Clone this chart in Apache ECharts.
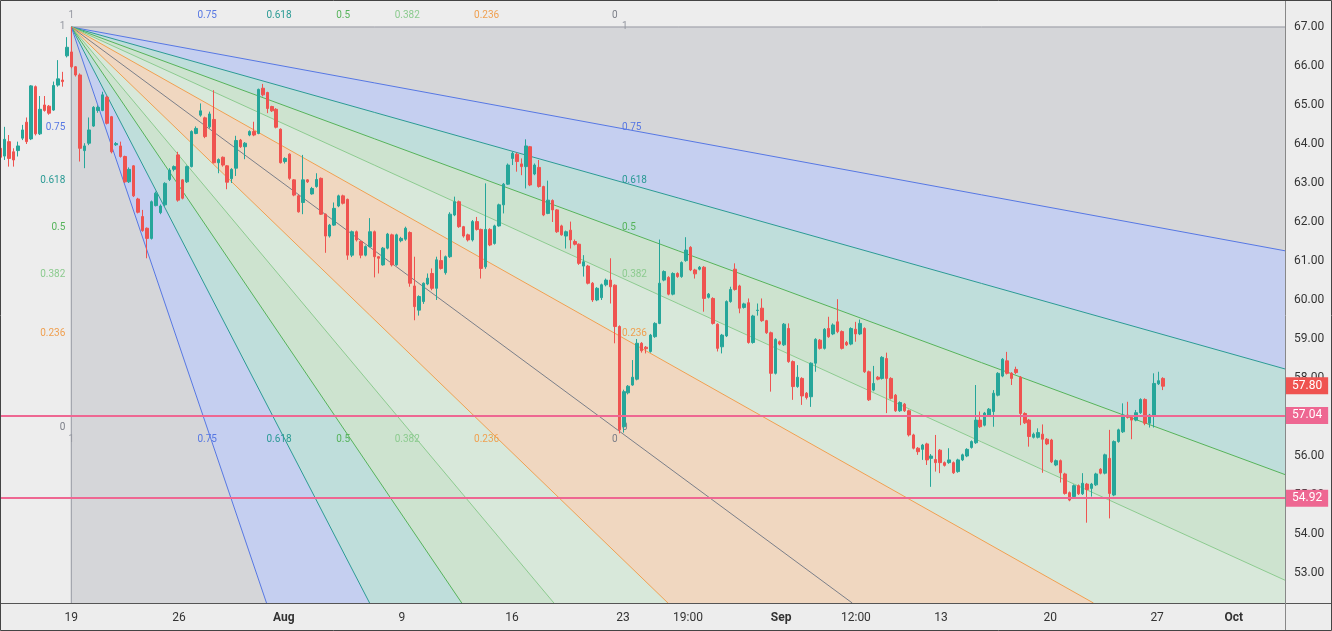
<!DOCTYPE html>
<html><head><meta charset="utf-8">
<script src="https://cdn.jsdelivr.net/npm/echarts@6/dist/echarts.min.js"></script>
<style>html,body{margin:0;padding:0;background:#ededed}#c{width:1332px;height:631px}</style>
</head><body><div id="c"></div>
<script>
// ---------- data ----------
const firstIndex = -16; // bar index of first candle (0 = 19 Jul swing high)
// [open, high, low, close]
const candles = [
[63.89,63.93,63.59,63.66],[63.69,64.44,63.59,64.12],[64.06,64.23,63.42,63.63],[63.80,63.89,63.42,63.59],
[63.83,64.06,63.68,63.95],[64.15,64.49,64.10,64.36],[64.56,64.68,64.00,64.06],[64.13,65.51,64.10,65.49],
[65.47,65.50,64.22,64.26],[64.26,65.23,64.23,64.89],[65.00,65.23,64.83,64.86],[64.97,65.00,64.75,64.79],
[64.87,65.60,64.85,65.50],[65.51,66.15,65.47,65.67],[65.64,65.85,65.47,65.60],[66.26,66.74,66.22,66.48],
[66.36,67.00,65.94,65.98],[65.98,66.00,65.73,65.77],[65.77,65.81,63.55,63.89],[63.83,64.02,63.38,63.95],
[64.02,64.68,63.97,64.36],[64.46,64.97,64.44,64.94],[64.86,64.99,64.80,64.94],[64.86,65.34,64.84,65.26],
[65.20,65.24,64.50,64.53],[64.70,64.72,63.76,63.80],[63.98,64.05,63.95,64.01],[63.95,64.06,63.65,63.68],
[63.68,63.70,63.00,63.03],[63.03,63.40,63.00,63.35],[63.44,63.46,62.64,62.67],[62.59,62.62,62.22,62.25],
[62.14,62.31,61.75,61.78],[61.84,61.86,61.07,61.58],[61.58,62.55,61.55,62.52],[62.42,62.78,62.40,62.74],
[62.24,62.45,62.20,62.41],[62.44,63.02,62.40,62.99],[63.09,63.38,63.05,63.33],[63.35,63.45,63.30,63.42],
[63.72,63.80,62.52,62.56],[63.08,63.10,62.58,62.61],[63.03,63.45,63.00,63.42],[63.42,64.35,63.40,64.32],
[64.27,64.45,64.25,64.40],[64.74,65.04,64.70,64.85],[64.67,64.70,64.15,64.19],[64.44,64.83,64.40,64.77],
[64.63,65.38,63.50,63.52],[63.52,63.63,63.25,63.60],[63.66,63.68,63.42,63.46],[63.44,63.46,62.84,63.02],
[63.11,63.38,63.00,63.35],[63.38,64.21,63.18,64.09],[64.10,64.13,63.90,63.93],[63.93,64.05,63.61,64.02],
[64.23,64.35,64.20,64.32],[64.32,64.57,64.20,64.23],[64.27,65.42,64.25,65.40],[65.43,65.54,65.22,65.26],
[65.32,65.34,64.79,64.91],[64.96,64.98,64.82,64.85],[64.89,64.92,64.40,64.43],[64.38,64.40,63.50,63.52],
[63.55,63.66,63.50,63.63],[63.74,63.76,63.08,63.12],[63.08,63.10,62.66,62.69],[62.67,62.70,62.24,62.26],
[62.50,63.72,62.20,63.08],[63.08,63.10,63.00,63.03],[62.72,62.90,62.70,62.86],[62.91,63.25,62.88,63.09],
[63.12,63.14,62.18,62.20],[62.20,62.22,61.21,61.64],[61.64,61.95,61.60,61.92],[61.92,62.50,61.90,62.35],
[62.41,62.70,62.38,62.67],[62.67,62.70,62.45,62.48],[62.58,62.60,61.03,61.15],[61.15,61.78,61.10,61.75],
[61.75,61.78,61.50,61.54],[61.50,61.52,61.07,61.15],[61.15,61.40,61.12,61.37],[61.37,62.10,61.35,61.75],
[61.75,61.78,60.58,61.11],[61.11,61.12,60.68,61.07],[60.90,61.36,60.88,61.33],[61.33,61.72,61.30,61.69],
[61.67,61.70,60.86,60.90],[60.90,61.70,60.88,61.67],[61.52,61.62,61.48,61.58],[61.56,61.88,61.52,61.84],
[61.73,61.76,60.34,60.43],[60.36,61.11,59.48,59.83],[59.74,60.12,59.60,60.09],[59.96,60.45,59.90,60.43],
[60.41,60.68,60.38,60.56],[60.68,60.81,60.25,60.30],[60.30,61.11,60.00,61.03],[61.01,61.28,60.78,60.81],
[60.70,61.14,60.65,61.11],[61.11,62.25,61.08,62.20],[62.18,62.65,62.15,62.52],[62.52,62.55,61.85,61.88],
[61.88,61.90,61.60,61.64],[61.67,61.70,61.50,61.54],[61.54,62.05,61.50,62.01],[62.01,62.13,61.78,61.81],
[61.81,61.83,60.55,60.81],[60.85,62.99,60.80,61.81],[61.81,61.84,61.38,61.41],[61.45,61.93,61.42,61.90],
[61.90,62.47,61.88,62.44],[62.44,63.00,62.22,62.97],[62.97,63.50,62.95,63.46],[63.63,63.80,63.46,63.76],
[63.74,63.78,63.29,63.55],[63.49,63.63,63.20,63.42],[63.42,64.12,62.86,63.95],[63.93,63.95,62.92,62.95],
[63.23,63.50,63.20,63.46],[63.40,63.59,62.88,62.91],[62.91,62.93,62.15,62.18],[62.22,63.06,62.20,62.56],
[62.55,62.58,62.00,62.31],[62.31,62.33,61.72,61.75],[61.90,61.93,61.65,61.67],[61.64,61.78,61.32,61.75],
[61.79,62.01,61.32,61.54],[61.50,61.55,61.40,61.43],[61.43,61.45,60.90,60.94],[60.87,61.15,60.60,60.98],
[60.87,60.90,60.40,60.43],[60.43,60.46,59.95,60.00],[60.00,60.33,59.97,60.30],[60.06,60.42,60.00,60.39],
[60.39,60.55,60.35,60.51],[60.51,61.07,59.91,60.34],[60.38,60.40,58.89,59.32],[59.32,59.35,56.58,56.67],
[56.75,57.70,56.60,57.65],[57.62,57.82,57.58,57.79],[57.82,58.46,57.80,58.02],[57.97,59.00,57.94,58.89],
[58.89,58.92,58.65,58.70],[58.79,58.82,58.63,58.75],[58.68,59.13,58.65,59.10],[59.06,59.43,59.03,59.40],
[59.40,61.55,59.38,60.43],[60.51,60.76,60.48,60.73],[60.58,60.61,60.12,60.15],[60.15,60.71,60.12,60.68],
[60.68,60.71,60.57,60.60],[60.60,60.99,60.57,60.96],[61.01,61.61,60.98,61.28],[61.35,61.38,60.74,60.77],
[60.77,60.80,60.55,60.67],[60.79,60.87,60.76,60.84],[60.84,60.87,59.70,60.04],[60.07,60.18,60.04,60.15],
[60.04,60.07,59.37,59.40],[59.38,59.40,58.68,58.76],[58.80,59.13,58.63,59.10],[59.08,59.99,59.05,59.96],
[59.96,60.34,59.93,60.27],[60.79,60.94,60.24,60.27],[60.36,60.39,59.66,59.79],[59.81,59.93,59.78,59.90],
[59.93,60.04,58.88,58.91],[58.91,59.62,58.88,59.59],[59.73,59.91,59.60,59.74],[59.79,60.04,59.44,59.47],
[59.47,59.49,59.13,59.16],[59.16,59.19,57.65,58.12],[58.12,59.02,58.09,58.99],[58.93,58.96,58.84,58.87],
[58.85,59.41,58.82,59.38],[59.27,59.40,58.39,58.42],[58.42,58.45,57.44,57.78],[57.78,58.33,57.75,58.02],
[57.99,58.02,57.31,57.54],[57.61,57.64,57.45,57.50],[57.52,58.40,57.26,58.38],[58.38,59.02,58.16,58.99],
[58.97,59.00,58.73,58.76],[58.76,59.28,58.73,59.25],[59.27,59.57,59.03,59.06],[59.13,59.40,59.10,59.36],
[59.44,60.02,59.15,59.19],[59.19,59.22,58.73,58.76],[58.91,58.95,58.82,58.85],[58.87,59.30,58.84,59.27],
[59.25,59.44,58.93,59.13],[59.13,59.50,59.10,59.40],[59.27,59.30,58.13,58.16],[58.16,58.19,57.41,57.44],
[57.69,58.31,57.66,57.86],[58.02,58.05,57.94,57.97],[57.99,58.56,57.96,58.53],[58.50,58.65,57.10,57.99],
[57.99,58.02,57.45,57.48],[57.56,57.59,57.13,57.16],[57.16,57.40,57.13,57.37],[57.33,57.36,57.13,57.16],
[57.16,57.19,56.50,56.54],[56.54,56.57,56.17,56.20],[56.20,56.23,56.03,56.11],[56.17,56.31,55.90,56.28],
[56.31,56.34,55.77,55.90],[55.94,56.05,55.21,56.00],[55.91,56.54,55.60,55.83],[56.15,56.18,55.56,55.83],
[55.83,55.86,55.73,55.76],[55.83,56.20,55.80,55.90],[55.83,55.86,55.54,55.57],[55.60,55.93,55.57,55.90],
[55.90,56.06,55.87,56.03],[56.00,56.20,55.97,56.17],[56.22,56.40,56.19,56.37],[56.34,57.82,56.31,56.92],
[56.92,57.14,56.72,56.75],[56.79,57.13,56.76,57.10],[57.03,57.23,57.00,57.20],[57.14,57.69,56.75,57.61],
[57.56,58.15,57.53,58.12],[58.05,58.51,58.02,58.48],[58.44,58.67,58.09,58.12],[58.12,58.15,57.82,57.99],
[58.22,58.29,58.10,58.14],[58.02,58.05,56.79,57.09],[57.09,57.12,56.82,56.85],[56.92,56.95,56.24,56.50],
[56.48,56.60,56.45,56.56],[56.48,56.71,56.45,56.60],[56.56,56.81,55.57,56.43],[56.43,56.46,56.28,56.31],
[56.41,56.44,55.82,55.85],[55.77,55.91,55.74,55.88],[55.88,55.91,55.32,55.57],[55.54,55.57,55.01,55.04],
[55.06,55.09,54.84,54.87],[54.96,55.27,54.93,55.24],[55.24,55.27,55.00,55.03],[55.03,55.56,55.00,55.30],
[55.28,55.31,54.29,55.14],[55.17,55.31,54.96,55.28],[55.26,55.57,55.23,55.54],[55.66,55.69,55.53,55.56],
[55.56,56.06,55.53,56.03],[55.94,56.67,54.40,55.04],[55.00,56.40,54.97,56.37],[56.37,56.70,56.34,56.67],
[56.62,57.35,56.59,57.05],[57.05,57.39,56.96,56.99],[56.99,57.02,56.43,56.92],[56.92,57.18,56.89,57.11],
[57.11,57.48,57.08,57.45],[57.45,57.48,56.79,56.84],[56.84,57.08,56.73,57.05],[57.05,58.12,56.73,57.86],
[57.85,58.16,57.82,57.93],[57.99,58.02,57.69,57.79]
];
const xTickPos    = [0, 24.2, 47.7, 74.2, 98.9, 123.8, 138.4, 159.3, 176.1, 195.2, 219.7, 243.7, 260.9];
const xTickLabels = ['19','26','Aug','9','16','23','19:00','Sep','12:00','13','20','27','Oct'];
const monthLabels = ['Aug','Sep','Oct'];
const yTicks = [53,54,55,56,57,58,59,60,61,62,63,64,65,66,67];
const fanStart = [0, 67.00];
const fanEnd   = [122, 56.72];
const fibLevels = [1, 0.75, 0.618, 0.5, 0.382, 0.236, 0];
const hLines = [57.04, 54.92];
const lastPrice = 57.80;

// ---------- styles ----------
const lineColors = {'1':'#9598a1','0.75':'#5677e3','0.618':'#2a9a94','0.5':'#55b35a','0.382':'#8ccb8f','0.236':'#f0a050','0':'#7b7e87'};
const fillColors = {'1':'#d5d6d9','0.75':'#c5cff0','0.618':'#bfdedb','0.5':'#cde3cf','0.382':'#d8e8da','0.236':'#f0d7c0'};
const labelFont = '10px Roboto';

function clipPoly(pts, r) {
  const X0 = r.x, X1 = r.x + r.width, Y0 = r.y, Y1 = r.y + r.height;
  const planes = [
    [p => p[0] >= X0, (a,b) => { const t=(X0-a[0])/(b[0]-a[0]); return [X0, a[1]+t*(b[1]-a[1])]; }],
    [p => p[0] <= X1, (a,b) => { const t=(X1-a[0])/(b[0]-a[0]); return [X1, a[1]+t*(b[1]-a[1])]; }],
    [p => p[1] >= Y0, (a,b) => { const t=(Y0-a[1])/(b[1]-a[1]); return [a[0]+t*(b[0]-a[0]), Y0]; }],
    [p => p[1] <= Y1, (a,b) => { const t=(Y1-a[1])/(b[1]-a[1]); return [a[0]+t*(b[0]-a[0]), Y1]; }]
  ];
  let out = pts;
  for (const [inside, inter] of planes) {
    const inp = out; out = [];
    for (let i = 0; i < inp.length; i++) {
      const cur = inp[i], prev = inp[(i + inp.length - 1) % inp.length];
      const ci = inside(cur), pi = inside(prev);
      if (ci) { if (!pi) out.push(inter(prev, cur)); out.push(cur); }
      else if (pi) out.push(inter(prev, cur));
    }
    if (!out.length) break;
  }
  return out;
}
function rayEnd(O, d, r) {
  let t = Infinity;
  if (d[0] > 1e-9) t = Math.min(t, (r.x + r.width - O[0]) / d[0]);
  if (d[0] < -1e-9) t = Math.min(t, (r.x - O[0]) / d[0]);
  if (d[1] > 1e-9) t = Math.min(t, (r.y + r.height - O[1]) / d[1]);
  if (d[1] < -1e-9) t = Math.min(t, (r.y - O[1]) / d[1]);
  return [O[0] + d[0]*t, O[1] + d[1]*t];
}
function txt(text, x, y, color, align) {
  return {type:'text', x:x, y:y, z2:5, style:{text:text, fill:color, font:labelFont,
    align:align, textAlign:align, verticalAlign:'middle', textVerticalAlign:'middle'}};
}
function renderFan(params, api) {
  const cs = params.coordSys;
  const rect = {x:cs.x, y:cs.y, width:cs.width, height:cs.height};
  const O = api.coord(fanStart), E = api.coord(fanEnd);
  const dx = E[0]-O[0], dy = E[1]-O[1];
  const rays = [];
  fibLevels.forEach(r => rays.push({r:r, p:[E[0], O[1] + (1-r)*dy]}));
  fibLevels.slice(0, -1).reverse().forEach(r => rays.push({r:r, p:[O[0] + (1-r)*dx, E[1]]}));
  const dir = p => { const vx=p[0]-O[0], vy=p[1]-O[1], n=Math.hypot(vx,vy); return [vx/n, vy/n]; };
  const children = [];
  const L = 8000;
  for (let i = 0; i < rays.length - 1; i++) {
    const a = rays[i], b = rays[i+1];
    const da = dir(a.p), db = dir(b.p);
    const poly = clipPoly([O, [O[0]+da[0]*L, O[1]+da[1]*L], [O[0]+db[0]*L, O[1]+db[1]*L]], rect);
    if (poly.length > 2) children.push({type:'polygon', z2:0, shape:{points:poly}, style:{fill:fillColors[String(Math.max(a.r,b.r))]}});
  }
  rays.forEach(ray => {
    const d = dir(ray.p), e = rayEnd(O, d, rect);
    children.push({type:'line', z2:1, shape:{x1:O[0], y1:O[1], x2:e[0], y2:e[1]}, style:{stroke:lineColors[String(ray.r)], lineWidth:1}});
  });
  fibLevels.forEach(r => {
    const c = lineColors[String(r)], t = String(r);
    const hy = O[1] + (1-r)*dy, vx = O[0] + (1-r)*dx;
    children.push(txt(t, O[0]-6, hy, c, 'right'));
    children.push(txt(t, E[0]+7, hy, c, 'left'));
    children.push(txt(t, vx, O[1]-11, c, 'center'));
    children.push(txt(t, vx, E[1]+12, c, 'center'));
  });
  return {type:'group', children:children};
}

const candleData = candles.map((c, i) => [firstIndex + i, c[0], c[3], c[2], c[1]]);

const chart = echarts.init(document.getElementById('c'), null, {width:1332, height:631});
chart.setOption({
  backgroundColor:'#ededed',
  animation:false,
  grid:{left:0, top:0, right:47, bottom:28},
  xAxis:{
    type:'value', min:-16, max:272.4,
    axisLine:{show:false}, axisTick:{show:false}, splitLine:{show:false},
    axisLabel:{
      customValues:xTickPos, margin:9, color:'#333', fontSize:12, fontFamily:'Roboto',
      formatter:function(v){
        let k = 0, best = 1e9;
        xTickPos.forEach((p,i)=>{ const d=Math.abs(p-v); if(d<best){best=d;k=i;} });
        const s = xTickLabels[k];
        return monthLabels.indexOf(s) >= 0 ? '{b|' + s + '}' : s;
      },
      rich:{b:{fontWeight:'bold', fontSize:12, fontFamily:'Roboto', color:'#333'}}
    }
  },
  yAxis:{
    type:'value', position:'right', min:52.231, max:67.692, scale:true,
    axisLine:{show:false}, axisTick:{show:false}, splitLine:{show:false},
    axisLabel:{customValues:yTicks, margin:9, color:'#333', fontSize:12, fontFamily:'Roboto',
      formatter:v => v.toFixed(2)}
  },
  series:[
    {type:'custom', silent:true, z:1, renderItem:renderFan, data:[[0,67]]},
    {
      type:'candlestick', z:3, barWidth:3, data:candleData,
      encode:{x:0, y:[1,2,3,4]},
      itemStyle:{color:'#26a69a', color0:'#ef5350', borderColor:'#26a69a', borderColor0:'#ef5350', borderWidth:1},
      markLine:{
        symbol:['none','none'], silent:true, animation:false,
        lineStyle:{color:'#ee6792', width:2, type:'solid'},
        label:{show:true, position:'end', distance:1, color:'#fff', backgroundColor:'#ee6792',
          padding:[3,6,2,6], fontSize:12, fontFamily:'Roboto', formatter:p => Number(p.value).toFixed(2)},
        data:[
          {yAxis:hLines[0]},
          {yAxis:hLines[1]},
          {yAxis:lastPrice, lineStyle:{color:'rgba(0,0,0,0)', width:0}, label:{backgroundColor:'#ef5350', color:'#fff'}}
        ]
      }
    }
  ],
  graphic:[
    {type:'line', z:100, shape:{x1:0, y1:603.5, x2:1332, y2:603.5}, style:{stroke:'#555', lineWidth:1}},
    {type:'line', z:100, shape:{x1:1285.5, y1:0, x2:1285.5, y2:631}, style:{stroke:'#888', lineWidth:1}},
    {type:'rect', z:100, shape:{x:0.5, y:0.5, width:1331, height:630}, style:{fill:'none', stroke:'#444', lineWidth:1}}
  ]
});
</script>
</body></html>
